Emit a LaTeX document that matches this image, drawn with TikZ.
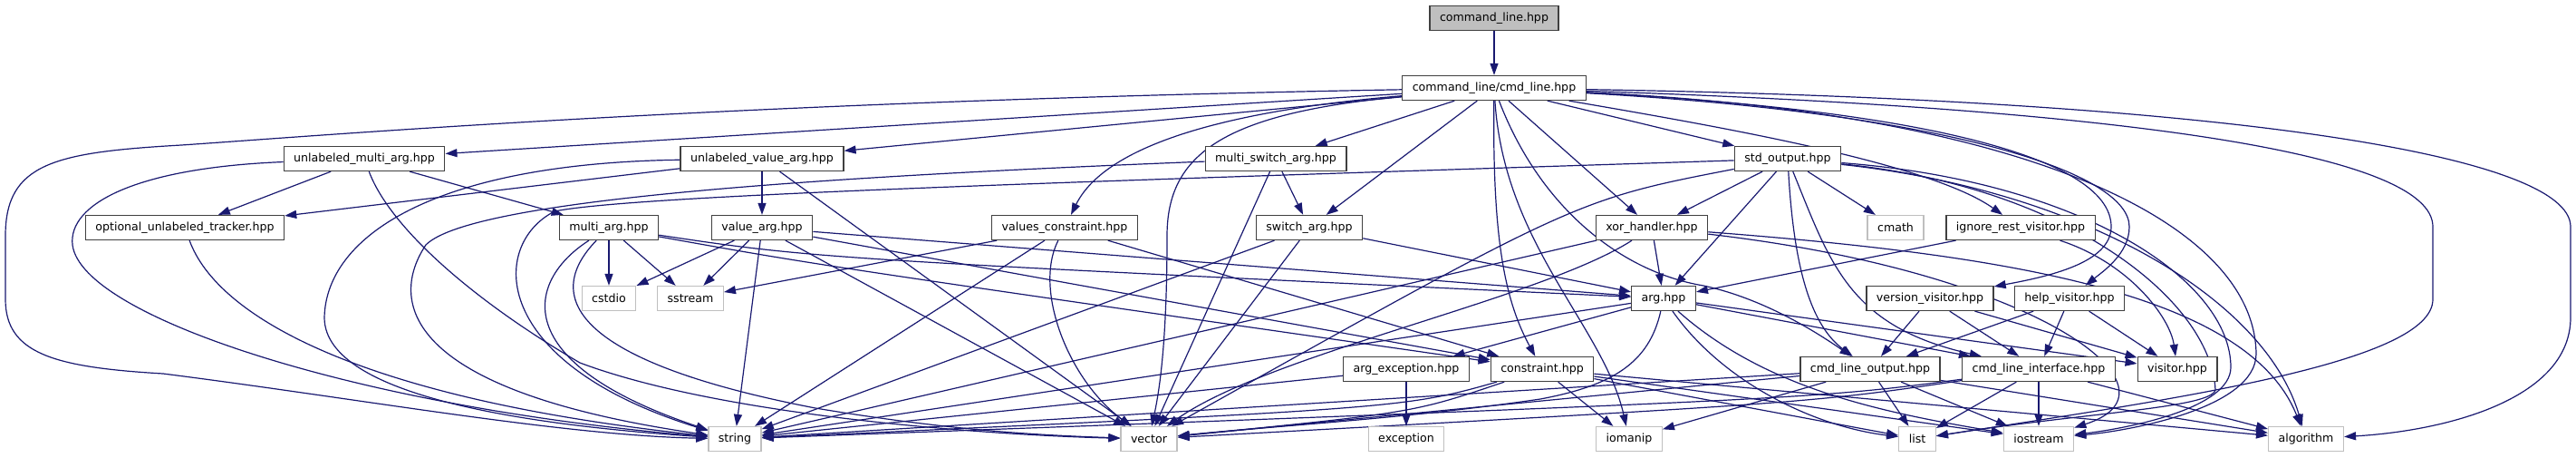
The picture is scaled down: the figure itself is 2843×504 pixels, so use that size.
\documentclass[tikz,border=0pt]{standalone}
\usepackage{fontspec}
\setmainfont{DejaVu Sans}
\usetikzlibrary{arrows.meta}
\definecolor{edge}{RGB}{25,25,112}
\definecolor{frame}{RGB}{64,64,64}
\definecolor{lgrey}{RGB}{191,191,191}
\pgfdeclarelayer{bg}
\pgfsetlayers{bg,main}

\begin{document}
\begin{tikzpicture}[x=1pt,y=-1pt,
  hdr/.style={draw=frame,line width=1.3pt,fill=white,inner xsep=11pt,inner ysep=0pt,
    minimum height=27pt,font=\fontsize{12.6}{15}\selectfont},
  sys/.style={hdr,draw=lgrey},
  root/.style={hdr,fill=lgrey},
  dep/.style={draw=edge,line width=1.2pt,-{Triangle[length=13pt,width=9pt]}}]
\useasboundingbox (0,0) rectangle (2843,504);

\node[root] (root) at (1649,20) {command\_line.hpp};
\node[hdr] (cmd) at (1649,97) {command\_line/cmd\_line.hpp};

\node[hdr] (uma) at (402,175) {unlabeled\_multi\_arg.hpp};
\node[hdr] (uva) at (841,175) {unlabeled\_value\_arg.hpp};
\node[hdr] (msw) at (1408,175) {multi\_switch\_arg.hpp};
\node[hdr] (sto) at (1973,175) {std\_output.hpp};

\node[hdr] (out) at (204,251) {optional\_unlabeled\_tracker.hpp};
\node[hdr] (mar) at (672,251) {multi\_arg.hpp};
\node[hdr] (var) at (841,251) {value\_arg.hpp};
\node[hdr] (vac) at (1175,251) {values\_constraint.hpp};
\node[hdr] (swa) at (1445,251) {switch\_arg.hpp};
\node[hdr] (xor) at (1823,251) {xor\_handler.hpp};
\node[sys] (cmath) at (2092,251) {cmath};
\node[hdr] (irv) at (2230,251) {ignore\_rest\_visitor.hpp};

\node[sys] (cstdio) at (672,329) {cstdio};
\node[sys] (sstream) at (762,329) {sstream};
\node[hdr] (arg) at (1836,329) {arg.hpp};
\node[hdr] (vvi) at (2130,329) {version\_visitor.hpp};
\node[hdr] (hvi) at (2284,329) {help\_visitor.hpp};

\node[hdr] (aex) at (1552,407) {arg\_exception.hpp};
\node[hdr] (con) at (1702,407) {constraint.hpp};
\node[hdr] (clo) at (2064,407) {cmd\_line\_output.hpp};
\node[hdr] (cli) at (2250,407) {cmd\_line\_interface.hpp};
\node[hdr] (vis) at (2403,407) {visitor.hpp};

\node[sys] (string) at (811,484) {string};
\node[sys] (vector) at (1268,484) {vector};
\node[sys] (exception) at (1552,484) {exception};
\node[sys] (iomanip) at (1798,484) {iomanip};
\node[sys] (list) at (2116,484) {list};
\node[sys] (iostream) at (2250,484) {iostream};
\node[sys] (algorithm) at (2545,484) {algorithm};

\begin{pgfonlayer}{bg}
% straight includes
\foreach \a/\b in {root/cmd, cmd/uma, cmd/uva, cmd/msw, cmd/swa, cmd/xor, cmd/sto,
  uma/out, uma/mar, uva/out, uva/var, uva/vector, msw/swa, msw/vector,
  sto/xor, sto/arg, sto/cmath, mar/cstdio, mar/sstream,
  var/cstdio, var/sstream, var/arg, var/con, var/string, var/vector,
  vac/con, vac/sstream, vac/string, swa/arg, swa/string, swa/vector,
  xor/arg, xor/string, irv/arg, arg/aex, arg/vis, arg/cli, arg/string,
  vvi/clo, vvi/cli, vvi/vis, hvi/clo, hvi/cli, hvi/vis,
  aex/exception, aex/string, con/iomanip, con/list, con/iostream, con/algorithm,
  clo/iomanip, clo/string, clo/vector, clo/list, clo/iostream, clo/algorithm,
  cli/list, cli/iostream, cli/algorithm}
  \draw[dep] (\a) -- (\b);

% cmd_line.hpp
\draw[dep] (cmd) .. controls (800,112) and (350,150) .. (200,160) .. controls (60,168) and (6,180) .. (6,260)
  -- (6,330) .. controls (6,390) and (60,405) .. (180,412) .. controls (400,440) and (620,480) .. (string);
\draw[dep] (cmd) .. controls (1350,125) and (1288,170) .. (1288,260) .. controls (1288,360) and (1282,420) .. (vector);
\draw[dep] (cmd) .. controls (1320,125) and (1215,170) .. (vac);
\draw[dep] (cmd) .. controls (1647,260) and (1660,330) .. (con);
\draw[dep] (cmd) .. controls (1660,270) and (1770,360) .. (iomanip);
\draw[dep] (cmd) .. controls (1700,230) and (1790,300) .. (1880,315) .. controls (1950,330) and (2010,370) .. (clo);
\draw[dep] (cmd) .. controls (1900,140) and (2130,180) .. (irv);
\draw[dep] (cmd) .. controls (2100,120) and (2330,170) .. (2330,250) .. controls (2330,290) and (2260,305) .. (vvi);
\draw[dep] (cmd) .. controls (2150,125) and (2350,190) .. (2350,250) .. controls (2350,280) and (2320,300) .. (hvi);
\draw[dep] (cmd) .. controls (2250,125) and (2488,250) .. (2490,390) .. controls (2490,450) and (2350,475) .. (iostream);
\draw[dep] (cmd) .. controls (2350,120) and (2685,170) .. (2685,250) -- (2685,330) .. controls (2685,400) and (2400,440) .. (list);
\draw[dep] (cmd) .. controls (2450,110) and (2837,170) .. (2837,250) -- (2837,350) .. controls (2837,440) and (2700,475) .. (algorithm);

% left part
\draw[dep] (uma) .. controls (150,185) and (75,225) .. (80,270) .. controls (90,350) and (400,450) .. (string);
\draw[dep] (uma) .. controls (430,250) and (520,330) .. (640,400) .. controls (800,460) and (1100,480) .. (vector);
\draw[dep] (uva) .. controls (480,180) and (360,260) .. (358,350) .. controls (358,440) and (600,470) .. (string);
\draw[dep] (msw) .. controls (900,195) and (520,220) .. (470,270) .. controls (430,330) and (440,430) .. (string);
\draw[dep] (out) .. controls (240,350) and (400,440) .. (string);
\draw[dep] (mar) .. controls (900,285) .. (arg);
\draw[dep] (mar) .. controls (900,292) .. (con);
\draw[dep] (mar) .. controls (580,310) and (560,400) .. (string);
\draw[dep] (mar) .. controls (595,330) and (640,400) .. (900,450) .. controls (1050,475) and (1150,480) .. (vector);
\draw[dep] (vac) .. controls (1140,320) and (1180,420) .. (vector);

% std_output.hpp
\draw[dep] (sto) .. controls (1200,200) and (700,215) .. (612,233) .. controls (540,270) and (540,400) .. (string);
\draw[dep] (sto) .. controls (1740,220) .. (vector);
\draw[dep] (sto) .. controls (1980,300) and (2000,360) .. (clo);
\draw[dep] (sto) .. controls (2020,290) and (2040,360) .. (cli);
\draw[dep] (sto) .. controls (2300,200) and (2462,310) .. (2462,405) .. controls (2462,450) and (2350,472) .. (iostream);
\draw[dep] (sto) .. controls (2280,205) and (2440,330) .. (2445,430) .. controls (2440,450) and (2300,455) .. (list);
\draw[dep] (sto) .. controls (2300,210) and (2500,330) .. (algorithm);

% right part
\draw[dep] (xor) .. controls (1700,330) and (1400,390) .. (vector);
\draw[dep] (xor) .. controls (2200,280) and (2480,320) .. (algorithm);
\draw[dep] (xor) .. controls (2250,300) and (2420,430) .. (iostream);
\draw[dep] (irv) .. controls (2350,290) and (2395,350) .. (vis);
\draw[dep] (arg) .. controls (1820,400) and (1780,425) .. (1700,440) .. controls (1550,462) and (1400,470) .. (vector);
\draw[dep] (arg) .. controls (1900,420) and (2000,470) .. (list);
\draw[dep] (arg) .. controls (1950,430) and (2080,455) .. (iostream);
\draw[dep] (con) .. controls (1550,450) .. (string);
\draw[dep] (con) .. controls (1560,455) .. (vector);
\draw[dep] (cli) .. controls (2000,440) .. (string);
\draw[dep] (cli) .. controls (2000,444) .. (vector);
\end{pgfonlayer}
\end{tikzpicture}
\end{document}
